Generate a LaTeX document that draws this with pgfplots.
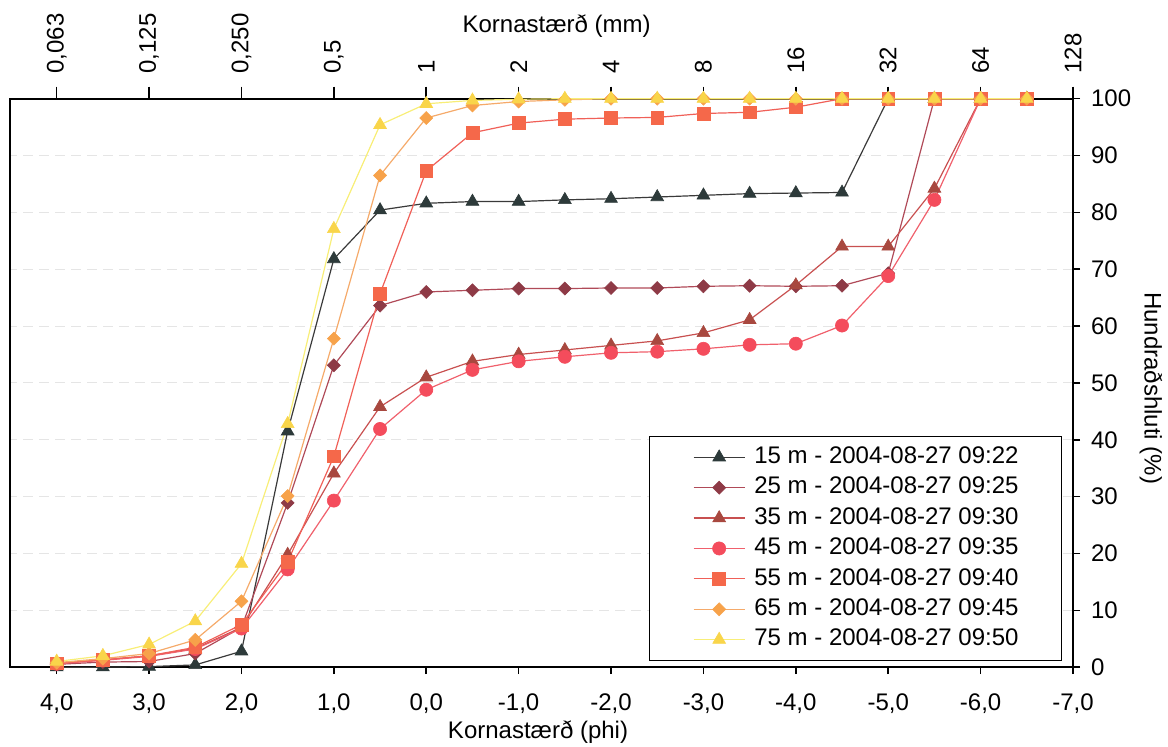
\documentclass[border=0pt]{standalone}
\usepackage{fontspec}
\setmainfont{Liberation Sans}
\usepackage{pgfplots}
\usepackage{pgfplotstable}
\pgfplotsset{compat=1.18}

% marker fill / line colours for each sampling depth
\definecolor{c15}{HTML}{2D3A3A}\definecolor{c15l}{HTML}{3A3A3A}
\definecolor{c25}{HTML}{8E3A46}\definecolor{c25l}{HTML}{B04A58}
\definecolor{c35}{HTML}{A8483F}\definecolor{c35l}{HTML}{C85050}
\definecolor{c45}{HTML}{F44C5C}\definecolor{c45l}{HTML}{F0606C}
\definecolor{c55}{HTML}{F5684A}\definecolor{c55l}{HTML}{F06058}
\definecolor{c65}{HTML}{F7A24A}\definecolor{c65l}{HTML}{F5AA6A}
\definecolor{c75}{HTML}{F9D54A}\definecolor{c75l}{HTML}{F8EE78}

% cumulative percentage finer than each phi size class
\pgfplotstableread{
phi   s15   s25   s35   s45   s55   s65   s75
4.0   0.0   0.5   0.7   0.6   0.7   0.8   1.0
3.5   0.0   0.9   1.3   1.2   1.3   1.5   2.0
3.0   0.1   1.0   2.0   1.9   2.0   2.4   4.0
2.5   0.4   2.4   3.3   3.2   3.5   4.8   8.1
2.0   2.8   7.0   7.0   6.8   7.5   11.6  18.2
1.5   41.5  28.9  19.8  17.2  18.5  30.1  42.8
1.0   71.8  53.1  34.1  29.3  37.1  57.8  77.1
0.5   80.4  63.6  45.8  41.9  65.7  86.5  95.4
0.0   81.6  66.0  51.0  48.8  87.3  96.6  99.1
-0.5  81.9  66.3  53.8  52.3  94.0  98.8  99.7
-1.0  81.9  66.6  55.0  53.8  95.7  99.5  99.9
-1.5  82.2  66.6  55.8  54.6  96.4  99.8  100
-2.0  82.4  66.7  56.6  55.3  96.6  100   100
-2.5  82.7  66.7  57.4  55.5  96.7  100   100
-3.0  83.0  67.0  58.8  56.0  97.4  100   100
-3.5  83.3  67.1  61.1  56.7  97.6  100   100
-4.0  83.4  67.0  67.2  56.9  98.5  100   100
-4.5  83.5  67.1  74.0  60.1  100   100   100
-5.0  100   69.3  74.0  68.8  100   100   100
-5.5  100   100   84.2  82.2  100   100   100
-6.0  100   100   100   100   100   100   100
-6.5  100   100   100   100   100   100   100
}\sieve

\pgfplotsset{
  sievebase/.style={
    at={(0,0)}, anchor=south west, scale only axis,
    width=531.25pt, height=284.25pt,
    x dir=reverse, xmin=-7, xmax=4.5, ymin=0, ymax=100,
    xtick={-7,...,4},
    tick align=outside,
    axis line style={line width=1pt},
    tick style={black, line width=0.8pt},
  },
  tri/.style={mark=triangle*, mark size=3.7pt},
}

\begin{document}
\begin{tikzpicture}[font=\fontsize{12}{14}\selectfont]
% upper axis: grain size in mm
\begin{axis}[sievebase,
  hide y axis,
  xtick pos=right, xticklabel pos=right,
  major tick length=6pt,
  xticklabels={128,64,32,16,8,4,2,1,{0,5},{0,250},{0,125},{0,063}},
  xticklabel style={rotate=90, anchor=west},
  xticklabel shift=3pt,
  xlabel={Kornastærð (mm)},
  xlabel style={at={(axis description cs:0.514,1)}, anchor=base, yshift=33.3pt},
]
\end{axis}
% main axis: grain size in phi, cumulative percentage
\begin{axis}[sievebase,
  name=main,
  xtick pos=left,
  ytick={0,10,...,100},
  ytick pos=right, yticklabel pos=right,
  major tick length=3.5pt,
  xticklabels={{-7,0},{-6,0},{-5,0},{-4,0},{-3,0},{-2,0},{-1,0},{0,0},{1,0},{2,0},{3,0},{4,0}},
  xticklabel shift=6pt,
  yticklabel shift=2pt,
  /pgf/number format/assume math mode=true,
  ymajorgrids,
  major grid style={black!10, dash pattern=on 5pt off 3pt, line width=0.5pt},
  xlabel={Kornastærð (phi)},
  xlabel style={at={(axis description cs:0.4965,0)}, anchor=base, yshift=-35.5pt},
  ylabel={Hundraðshluti (\%)},
  ylabel style={at={(axis description cs:1.0734,0.491)}, anchor=center, rotate=180},
  clip=false,
  legend cell align=left,
  legend image code/.code={\draw[mark repeat=2, mark phase=2]
    plot coordinates {(0pt,0pt) (12.8pt,0pt) (25.6pt,0pt)};},
  legend style={at={(axis description cs:0.9897,0.0106)}, anchor=south east,
    draw=black, line width=0.5pt, fill=white,
    inner xsep=21.5pt, inner ysep=5pt, row sep=4.2pt,
    nodes={inner sep=0pt, text height=8.6pt, text depth=2.4pt, anchor=west},
    /tikz/every odd column/.append style={column sep=4.5pt}},
]
\addplot[c15l, line width=0.6pt, tri, mark options={fill=c15, draw=c15, line width=0.3pt}]
  table[x=phi, y=s15] {\sieve};
\addplot[c25l, line width=0.6pt, mark=square*, mark size=2.3pt,
  mark options={rotate=45, fill=c25, draw=c25, line width=0.3pt}]
  table[x=phi, y=s25] {\sieve};
\addplot[c35l, line width=0.6pt, tri, mark options={fill=c35, draw=c35, line width=0.3pt}]
  table[x=phi, y=s35] {\sieve};
\addplot[c45l, line width=0.6pt, mark=*, mark size=3.3pt, mark options={fill=c45, draw=c45, line width=0.3pt}]
  table[x=phi, y=s45] {\sieve};
\addplot[c55l, line width=0.6pt, mark=square*, mark size=3.2pt, mark options={fill=c55, draw=c55, line width=0.3pt}]
  table[x=phi, y=s55] {\sieve};
\addplot[c65l, line width=0.6pt, mark=square*, mark size=2.3pt,
  mark options={rotate=45, fill=c65, draw=c65, line width=0.3pt}]
  table[x=phi, y=s65] {\sieve};
\addplot[c75l, line width=0.6pt, tri, mark options={fill=c75, draw=c75, line width=0.3pt}]
  table[x=phi, y=s75] {\sieve};
\legend{15 m - 2004-08-27 09:22, 25 m - 2004-08-27 09:25, 35 m - 2004-08-27 09:30,
  45 m - 2004-08-27 09:35, 55 m - 2004-08-27 09:40, 65 m - 2004-08-27 09:45,
  75 m - 2004-08-27 09:50}
\end{axis}
\pgfresetboundingbox
\path (-5.25pt,-39.9pt) rectangle (578.75pt,333.6pt);
\end{tikzpicture}
\end{document}
